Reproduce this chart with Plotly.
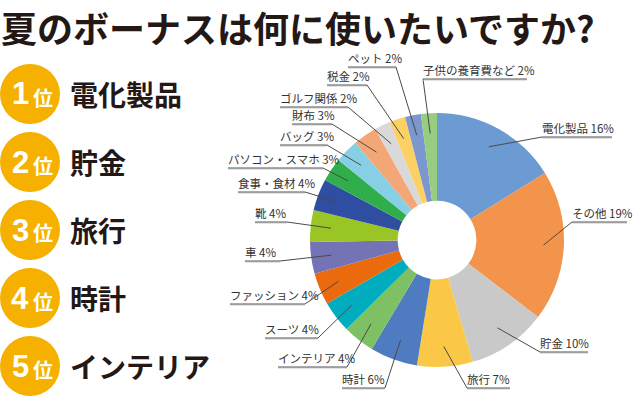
import math
import plotly.graph_objects as go

W, H = 640, 410

TITLE = "夏のボーナスは何に使いたいですか?"
RANK_NUMS = ["1", "2", "3", "4", "5"]
RANK_ITEMS = ["電化製品", "貯金", "旅行", "時計", "インテリア"]

CATEGORIES = ["電化製品", "その他", "貯金", "旅行", "時計", "インテリア", "スーツ",
              "ファッション", "車", "靴", "食事・食材", "パソコン・スマホ", "バッグ",
              "財布", "ゴルフ関係", "税金", "ペット", "子供の養育費など"]
VALUES = [16, 19, 10, 7, 6, 4, 4, 4, 4, 4, 4, 3, 3, 3, 2, 2, 2, 2]
COLORS = ["#6b9bd2", "#f2944b", "#c9c9c9", "#fac846", "#4f7bc0", "#7ec064", "#00adbf",
          "#eb6a0d", "#7473b5", "#99c625", "#2f4ea1", "#30ae4b", "#87cfe4",
          "#f4a776", "#d9d9d9", "#fcd062", "#7b97cd", "#96cd80"]

# label placement in pixels: underline left, underline right, underline y, leader side
LABEL_POS = [
    (542, 612, 137, "L"), (572, 627, 222, "L"), (540, 588, 352, "L"),
    (467, 510, 388, "L"), (342, 385, 388, "R"), (278, 347, 367, "R"),
    (265, 318, 338, "R"), (230, 305, 304, "R"), (245, 280, 261, "R"),
    (255, 287, 222, "R"), (238, 305, 192, "R"), (228, 323, 168, "R"),
    (280, 327, 145, "R"), (292, 332, 124, "R"), (280, 348, 107, "R"),
    (327, 367, 85, "R"), (348, 396, 67, "R"), (423, 527, 79, "L"),
]

# pie geometry (pixels)
CX, CY, R = 437, 240, 127
INK = "#231815"
FONT = "Noto Sans CJK JP"


def px(x):
    return x / W


def py(y):
    return 1 - y / H


fig = go.Figure()
fig.add_trace(go.Pie(
    labels=CATEGORIES, values=VALUES, sort=False, direction="clockwise",
    hole=0.31, textinfo="none", hoverinfo="label+percent",
    marker=dict(colors=COLORS, line=dict(width=0)),
    domain=dict(x=[px(CX - R), px(CX + R)], y=[py(CY + R), py(CY - R)]),
    showlegend=False,
))

shapes = []
annotations = []

# title
annotations.append(dict(
    x=px(0), y=py(27), xref="paper", yref="paper", xanchor="left", yanchor="middle",
    text=f"<b>{TITLE}</b>", showarrow=False, borderpad=0, height=38,
    font=dict(family=FONT, size=36, color=INK, weight=900),
))

# ranking list
for i, (num, item) in enumerate(zip(RANK_NUMS, RANK_ITEMS)):
    cy = 94 + 68 * i
    shapes.append(dict(type="circle", xref="paper", yref="paper",
                       x0=px(0), x1=px(60), y0=py(cy + 30), y1=py(cy - 30),
                       fillcolor="#f6b100", line=dict(width=0)))
    annotations.append(dict(
        x=px(20), y=py(cy), xref="paper", yref="paper", xanchor="center", yanchor="middle",
        text=f"<b>{num}</b>", showarrow=False,
        font=dict(family="Liberation Sans", size=31, color="white"),
    ))
    annotations.append(dict(
        x=px(43), y=py(cy + 3), xref="paper", yref="paper", xanchor="center", yanchor="middle",
        text="<b>位</b>", showarrow=False,
        font=dict(family=FONT, size=20, color="white"),
    ))
    annotations.append(dict(
        x=px(68), y=py(cy), xref="paper", yref="paper", xanchor="left", yanchor="middle",
        text=f"<b>{item}</b>", showarrow=False,
        font=dict(family=FONT, size=28, color=INK),
    ))

# slice labels with leader lines
total = sum(VALUES)
cum = 0
for cat, val, (x0, x1, uy, side) in zip(CATEGORIES, VALUES, LABEL_POS):
    theta = 2 * math.pi * (cum + val / 2) / total
    cum += val
    sx = CX + 0.84 * R * math.sin(theta)
    sy = CY - 0.84 * R * math.cos(theta)
    ex = x0 if side == "L" else x1
    shapes.append(dict(type="line", xref="paper", yref="paper",
                       x0=px(sx), y0=py(sy), x1=px(ex), y1=py(uy),
                       line=dict(color="#4a4a4a", width=1)))
    shapes.append(dict(type="line", xref="paper", yref="paper",
                       x0=px(x0), y0=py(uy + 1), x1=px(x1), y1=py(uy + 1),
                       line=dict(color="#c8c8c8", width=1)))
    shapes.append(dict(type="line", xref="paper", yref="paper",
                       x0=px(x0), y0=py(uy), x1=px(x1), y1=py(uy),
                       line=dict(color="#555555", width=1)))
    annotations.append(dict(
        x=px(x0 - 1), y=py(uy), xref="paper", yref="paper", xanchor="left", yanchor="bottom",
        text=f"{cat} {val}%", showarrow=False, borderpad=0,
        font=dict(family=FONT, size=11.5, color="#333333"),
    ))

fig.update_layout(
    width=W, height=H,
    margin=dict(l=0, r=0, t=0, b=0),
    paper_bgcolor="white", plot_bgcolor="white",
    shapes=shapes, annotations=annotations,
)

# drop the default page margin so the figure sits at the window's corner
fig.write_html("out.html", config={"displayModeBar": False},
               post_script="document.body.style.margin = '0';")
